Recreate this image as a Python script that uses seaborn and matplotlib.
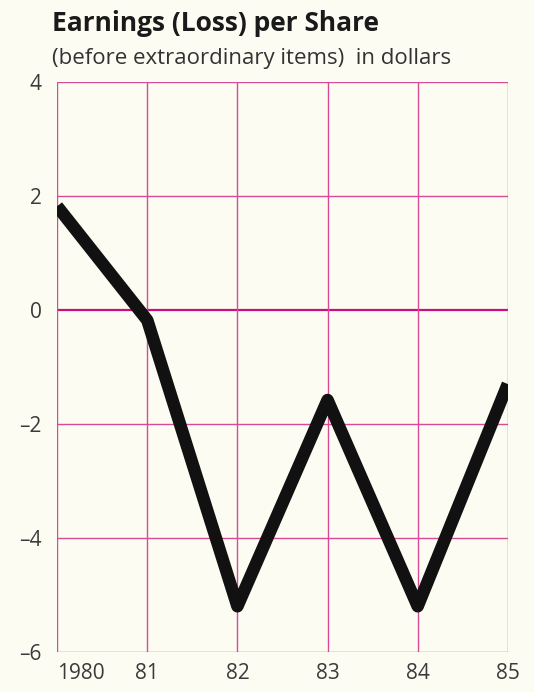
import pandas as pd
import matplotlib.pyplot as plt
import seaborn as sns

# data
years = [1980, 1981, 1982, 1983, 1984, 1985]
year_labels = ['1980', '81', '82', '83', '84', '85']
eps = [1.82, -0.18, -5.2, -1.58, -5.2, -1.3]
y_ticks = [-6, -4, -2, 0, 2, 4]

df = pd.DataFrame({'year': years, 'eps': eps})

sns.set_style('white')
plt.rcParams['font.family'] = ['Open Sans', 'DejaVu Sans']

bg = '#fcfcf3'
grid_pink = '#d84a98'

fig = plt.figure(figsize=(5.34, 6.92), dpi=100, facecolor=bg)
ax = fig.add_axes([0.107, 0.058, 0.844, 0.8235])
ax.set_facecolor(bg)

for y in y_ticks:
    ax.axhline(y, color='#c8107e' if y == 0 else grid_pink,
               lw=1.6 if y == 0 else 1.0, zorder=1)
for x in years:
    ax.axvline(x, color=grid_pink, lw=1.0, zorder=1)

sns.lineplot(data=df, x='year', y='eps', ax=ax, color='#111111',
             linewidth=9, solid_joinstyle='round', solid_capstyle='butt', zorder=3)

ax.set_xlim(1980, 1985)
ax.set_ylim(-6, 4)
ax.set_yticks(y_ticks)
ax.set_yticklabels([str(t).replace('-', '\u2013') for t in y_ticks])
ax.set_xticks(years)
ax.set_xticklabels(year_labels)
ax.get_xticklabels()[0].set_ha('left')
ax.tick_params(axis='both', length=0, labelsize=15, colors='#3a3a3a')
ax.tick_params(axis='y', pad=11)
ax.tick_params(axis='x', pad=8)
ax.set(xlabel='', ylabel='')
for s in ax.spines.values():
    s.set_visible(False)

fig.text(0.097, 0.966, 'Earnings (Loss) per Share', fontsize=19,
         fontweight='bold', color='#1a1a1a', va='center', ha='left')
fig.text(0.097, 0.916, '(before extraordinary items)  in dollars', fontsize=16,
         color='#333333', va='center', ha='left')

plt.savefig('out.png', dpi=100, facecolor=bg)
